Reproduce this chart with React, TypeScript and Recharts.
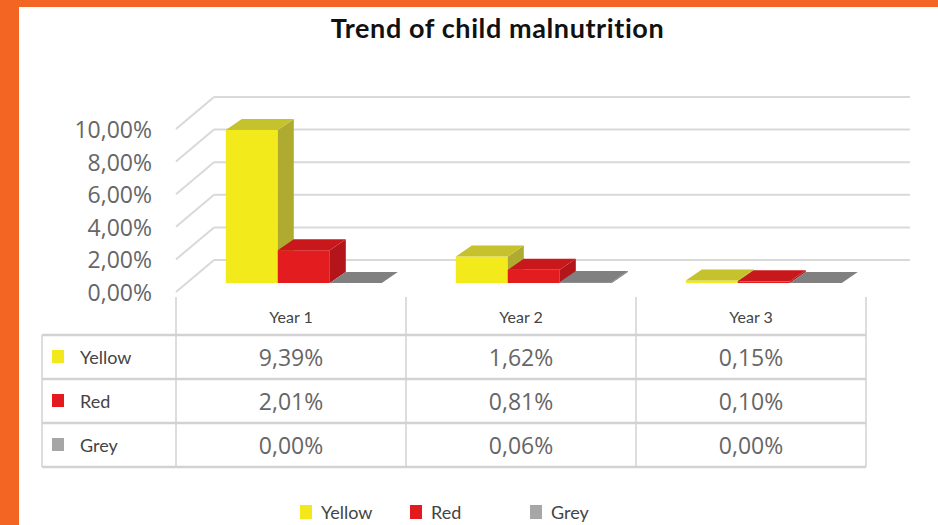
import React from 'react';
import { BarChart, Bar, XAxis, YAxis, CartesianGrid } from 'recharts';

const categories = ['Year 1', 'Year 2', 'Year 3'];
const yellowValues = [9.39, 1.62, 0.15];
const redValues = [2.01, 0.81, 0.1];
const greyValues = [0.0, 0.06, 0.0];
const yTicks = [0, 2, 4, 6, 8, 10];
const seriesNames = ['Yellow', 'Red', 'Grey'];
const seriesKeys = ['yellow', 'red', 'grey'];
const seriesValues = [yellowValues, redValues, greyValues];

const data = categories.map((c, i) => ({
  name: c,
  yellow: yellowValues[i],
  red: redValues[i],
  grey: greyValues[i],
}));

const W = 938;
const H = 525;
const PLOT_LEFT = 176;
const PLOT_RIGHT = 866;
const PLOT_TOP = 129;
const PLOT_BOTTOM = 292;
const Y_AXIS_W = 120;
const X_AXIS_H = 200;
const PLOT_W = PLOT_RIGHT - PLOT_LEFT;
const HALF_BAND = PLOT_W / categories.length / 2;
const TABLE_LEFT = 42;

const legendColors = ['#F2E81B', '#E31B1E', '#A6A6A6'];
const faceColors = [
  { front: '#F2EA1B', top: '#C6C22E', side: '#AFAB30' },
  { front: '#E31D1F', top: '#C8181B', side: '#B3151A' },
  { front: '#8C8C8C', top: '#808080', side: '#6E6E6E' },
];

const fmt = (v: number) => v.toFixed(2).replace('.', ',') + '%';

const SX = 13;
const SY = -9;
const DX = 16;
const DY = -11;

const make3D = (si: number) => (props: any) => {
  const { x, y, width, height } = props;
  const c = faceColors[si];
  const x0 = x + SX;
  const h = Math.max(0, height || 0);
  const y0 = y + SY;
  const w = width;
  return (
    <g>
      <rect x={x0} y={y0} width={w} height={h} fill={c.front} />
      <polygon
        points={`${x0 + w},${y0} ${x0 + w + DX},${y0 + DY} ${x0 + w + DX},${y0 + h + DY} ${x0 + w},${y0 + h}`}
        fill={c.side}
      />
      <polygon
        points={`${x0},${y0} ${x0 + DX},${y0 + DY} ${x0 + w + DX},${y0 + DY} ${x0 + w},${y0}`}
        fill={c.top}
      />
    </g>
  );
};

const gridLine = (props: any) => {
  const { x1, y1, x2, key } = props;
  return (
    <g key={key}>
      <line x1={x1} y1={y1} x2={x1 + 38} y2={y1 - 32} stroke="#d9d9d9" strokeWidth={2} />
      <line x1={x1 + 38} y1={y1 - 32} x2={x2 + 44} y2={y1 - 32} stroke="#d9d9d9" strokeWidth={2} />
    </g>
  );
};

const YTick = (props: any) => {
  const { y, payload } = props;
  return (
    <text
      x={PLOT_LEFT - 24}
      y={y}
      textAnchor="end"
      dominantBaseline="central"
      fontFamily="'Open Sans', sans-serif"
      fontSize={23}
      fill="#666666"
    >
      {fmt(payload.value)}
    </text>
  );
};

const ROW_TOPS = [335, 379, 423, 467];
const HEADER_Y = 316;
const COL_TOP = 297;

const TableTick = (props: any) => {
  const { x, payload, index } = props;
  const left = x - HALF_BAND;
  const right = x + HALF_BAND;
  const lineColor = '#d2d2d2';
  return (
    <g>
      {index === 0 && (
        <g>
          {ROW_TOPS.map((ry, i) => (
            <line key={'h' + i} x1={TABLE_LEFT} y1={ry} x2={left + PLOT_W} y2={ry} stroke={lineColor} strokeWidth={2.5} />
          ))}
          <line x1={TABLE_LEFT} y1={ROW_TOPS[0]} x2={TABLE_LEFT} y2={ROW_TOPS[3]} stroke={lineColor} strokeWidth={1.5} />
          <line x1={left} y1={COL_TOP} x2={left} y2={ROW_TOPS[3]} stroke={lineColor} strokeWidth={1.5} />
          {seriesNames.map((n, i) => {
            const cy = (ROW_TOPS[i] + ROW_TOPS[i + 1]) / 2;
            return (
              <g key={'l' + i}>
                <rect x={TABLE_LEFT + 10} y={cy - 7} width={12} height={13} fill={legendColors[i]} />
                <text
                  x={TABLE_LEFT + 38}
                  y={cy}
                  dominantBaseline="central"
                  fontFamily="Lato, sans-serif"
                  fontSize={18}
                  fill="#444444"
                >
                  {n}
                </text>
              </g>
            );
          })}
        </g>
      )}
      <line x1={right} y1={COL_TOP} x2={right} y2={ROW_TOPS[3]} stroke={lineColor} strokeWidth={1.5} />
      <text
        x={x}
        y={HEADER_Y}
        textAnchor="middle"
        dominantBaseline="central"
        fontFamily="Lato, sans-serif"
        fontSize={16}
        fill="#444444"
      >
        {payload.value}
      </text>
      {seriesValues.map((vals, i) => {
        const cy = (ROW_TOPS[i] + ROW_TOPS[i + 1]) / 2;
        return (
          <text
            key={'v' + i}
            x={x}
            y={cy}
            textAnchor="middle"
            dominantBaseline="central"
            fontFamily="'Open Sans', sans-serif"
            fontSize={23}
            fill="#666666"
          >
            {fmt(vals[index])}
          </text>
        );
      })}
    </g>
  );
};

const legendLefts = [300, 410, 530];

export default function App() {
  return (
    <div
      style={{
        position: 'fixed',
        left: 0,
        top: 0,
        width: W,
        height: H,
        background: '#F26522',
        overflow: 'hidden',
      }}
    >
      <div
        style={{
          position: 'absolute',
          left: 19,
          top: 7,
          width: W - 19,
          height: H - 7,
          background: '#ffffff',
        }}
      />
      <div
        style={{
          position: 'absolute',
          left: 0,
          top: 11,
          width: 995,
          textAlign: 'center',
          fontFamily: 'Lato, sans-serif',
          fontWeight: 700,
          fontSize: 27,
          letterSpacing: 0.6,
          color: '#111111',
          lineHeight: '34px',
        }}
      >
        Trend of child malnutrition
      </div>
      <div style={{ position: 'absolute', left: 0, top: 0 }}>
        <BarChart
          width={W}
          height={H}
          data={data}
          margin={{
            top: PLOT_TOP,
            left: PLOT_LEFT - Y_AXIS_W,
            right: W - PLOT_RIGHT,
            bottom: H - PLOT_BOTTOM - X_AXIS_H,
          }}
          barCategoryGap="16%"
          barGap={0}
        >
          <CartesianGrid vertical={false} horizontal={gridLine} />
          <YAxis
            width={Y_AXIS_W}
            domain={[0, 10]}
            ticks={yTicks}
            axisLine={false}
            tickLine={false}
            tick={<YTick />}
            interval={0}
          />
          <XAxis
            dataKey="name"
            height={X_AXIS_H}
            axisLine={false}
            tickLine={false}
            tick={(p: any) => <TableTick {...p} />}
            interval={0}
          />
          {seriesKeys.map((k, i) => (
            <Bar
              key={k}
              dataKey={k}
              name={seriesNames[i]}
              fill={legendColors[i]}
              isAnimationActive={false}
              shape={make3D(i)}
            />
          ))}
        </BarChart>
      </div>
      {seriesNames.map((n, i) => (
        <div
          key={n}
          style={{
            position: 'absolute',
            left: legendLefts[i],
            top: 499,
            height: 26,
            display: 'flex',
            alignItems: 'center',
            fontFamily: 'Lato, sans-serif',
            fontSize: 18,
            color: '#444444',
          }}
        >
          <span
            style={{
              display: 'inline-block',
              width: 12,
              height: 14,
              background: legendColors[i],
              marginRight: 9,
            }}
          />
          {n}
        </div>
      ))}
    </div>
  );
}
